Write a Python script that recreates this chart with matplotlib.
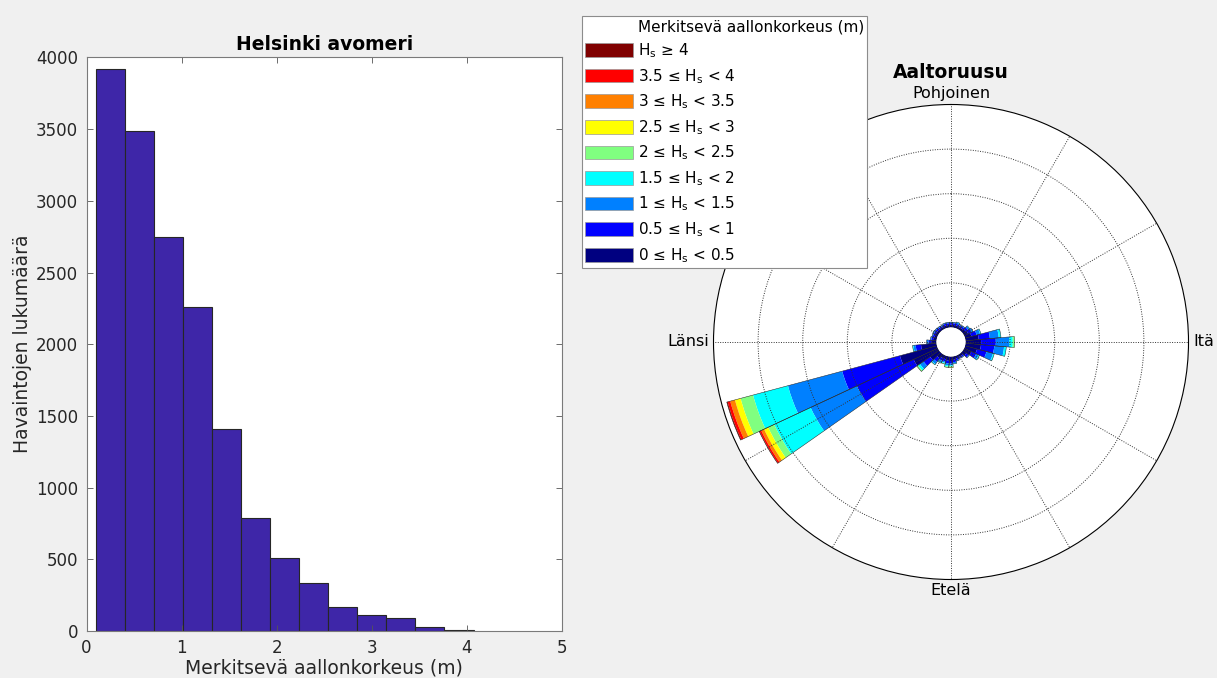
import numpy as np
import matplotlib
matplotlib.use('Agg')
import matplotlib.pyplot as plt
from matplotlib.patches import Patch, Circle

# --- histogram data (counts per wave-height bin) ---
bin_edges = np.linspace(0.097, 4.07, 14)
hist_counts = [3922, 3488, 2745, 2257, 1407, 786, 507, 333, 165, 112, 88, 28, 4]

# --- wave rose data: frequency per 10 degree sector and height class ---
directions = np.arange(0, 360, 10)
# 0 <= Hs < 0.5
hs_0_05 = [.06, .06, .06, .05, .06, .08, .10, .15, .30, .35, .35, .28,
           .18, .10, .06, .05, .06, .08, .10, .10, .08, .08, .12, .25,
           .60, .86, .35, .12, .08, .06, .06, .06, .05, .05, .06, .06]
# 0.5 <= Hs < 1
hs_05_1 = [.04, .04, .04, .04, .04, .06, .08, .12, .25, .33, .30, .22,
           .12, .06, .03, .03, .04, .05, .06, .06, .05, .06, .10, .18,
           1.40, 1.34, .12, .06, .04, .04, .04, .04, .04, .03, .04, .04]
# 1 <= Hs < 1.5
hs_1_15 = [.02, .02, .03, .02, .02, .04, .04, .08, .20, .30, .22, .15,
           .06, .02, .01, .01, .02, .03, .04, .04, .03, .04, .06, .10,
           1.15, 1.26, .05, .04, .02, .02, .03, .02, .02, .02, .02, .02]
# 1.5 <= Hs < 2
hs_15_2 = [0, 0, .01, 0, 0, .01, 0, .02, .05, .08, .05, .03,
           .02, 0, 0, 0, 0, .01, .02, .03, .02, .02, .02, .05,
           .90, .81, .02, 0, 0, 0, 0, 0, 0, 0, 0, 0]
# 2 <= Hs < 2.5
hs_2_25 = [0, 0, 0, 0, 0, 0, 0, 0, 0, .04, 0, 0,
           0, 0, 0, 0, 0, 0, .02, .02, .01, 0, 0, .03,
           .15, .29, 0, 0, 0, 0, 0, 0, 0, 0, 0, 0]
# 2.5 <= Hs < 3
hs_25_3 = [0] * 18 + [.01] + [0] * 5 + [.10, .13] + [0] * 10
# 3 <= Hs < 3.5
hs_3_35 = [0] * 24 + [.07, .11] + [0] * 10
# 3.5 <= Hs < 4
hs_35_4 = [0] * 24 + [.04, .06] + [0] * 10
# Hs >= 4
hs_4 = [0] * 24 + [.01, .02] + [0] * 10

classes = [hs_0_05, hs_05_1, hs_1_15, hs_15_2, hs_2_25,
           hs_25_3, hs_3_35, hs_35_4, hs_4]
class_colors = ['#000080', '#0000ff', '#0080ff', '#00ffff', '#80ff80',
                '#ffff00', '#ff8000', '#ff0000', '#800000']
class_labels = ['0 ≤ H$_\\mathrm{s}$ < 0.5',
                '0.5 ≤ H$_\\mathrm{s}$ < 1',
                '1 ≤ H$_\\mathrm{s}$ < 1.5',
                '1.5 ≤ H$_\\mathrm{s}$ < 2',
                '2 ≤ H$_\\mathrm{s}$ < 2.5',
                '2.5 ≤ H$_\\mathrm{s}$ < 3',
                '3 ≤ H$_\\mathrm{s}$ < 3.5',
                '3.5 ≤ H$_\\mathrm{s}$ < 4',
                'H$_\\mathrm{s}$ ≥ 4']

W, H = 1217, 678
fig = plt.figure(figsize=(W / 100, H / 100), dpi=100)
fig.patch.set_facecolor('#f0f0f0')
plt.rcParams['mathtext.default'] = 'regular'
txt_col = '#262626'

# ---------------- histogram ----------------
ax = fig.add_axes([86.5 / W, 1 - 631 / H, (562 - 86.5) / W, (631 - 57.4) / H])
ax.bar(bin_edges[:-1], hist_counts, width=np.diff(bin_edges), align='edge',
       color='#3e26a8', edgecolor='#262626', linewidth=0.8)
ax.set_xlim(0, 5)
ax.set_ylim(0, 4000)
ax.set_xticks(range(0, 6))
ax.set_yticks(range(0, 4001, 500))
ax.tick_params(direction='in', top=True, right=True, length=4, width=0.6,
               color='#555555', labelsize=12, labelcolor=txt_col, pad=6)
for sp in ax.spines.values():
    sp.set_color('#7a7a7a')
    sp.set_linewidth(0.8)
ax.set_xlabel('Merkitsevä aallonkorkeus (m)', fontsize=13.5, color=txt_col, labelpad=1)
ax.set_ylabel('Havaintojen lukumäärä', fontsize=13.5, color=txt_col, labelpad=3)
fig.text(324.25 / W, 1 - 44 / H, 'Helsinki avomeri', fontsize=13.5,
         fontweight='bold', ha='center', va='center', color='black')

# ---------------- wave rose ----------------
cx, cy, R = 951, 342, 237.5
pax = fig.add_axes([(cx - R) / W, 1 - (cy + R) / H, 2 * R / W, 2 * R / H],
                   projection='polar')
pax.set_theta_zero_location('N')
pax.set_theta_direction(-1)
pax.set_rorigin(-0.325)
pax.set_ylim(0, 5)

theta = np.deg2rad(directions)
width = np.deg2rad(10)
bottom = np.zeros(len(directions))
for vals, col in zip(classes, class_colors):
    pax.bar(theta, vals, width=width, bottom=bottom, color=col,
            edgecolor='none', linewidth=0, zorder=1)
    bottom = bottom + np.array(vals)
# outline of each sector
pax.bar(theta, bottom, width=width, bottom=0, facecolor='none',
        edgecolor='#222222', linewidth=0.35, zorder=1.5)

pax.set_xticks(np.deg2rad(np.arange(0, 360, 30)))
pax.set_yticks([1, 2, 3, 4])
pax.set_xticklabels([])
pax.set_yticklabels([])
pax.set_axisbelow(False)
pax.grid(True, color='#333333', linestyle=(0, (1, 1.5)), linewidth=0.7)
pax.spines['polar'].set_color('black')
pax.spines['polar'].set_linewidth(0.8)
pax.spines['inner'].set_linewidth(0)
pax.add_patch(Circle((0.5, 0.5), 0.5 * 0.325 / 5.325, transform=pax.transAxes,
                     facecolor='white', edgecolor='none', zorder=3, clip_on=False))

lab_kw = dict(fontsize=11.5, color='black', transform=pax.transAxes)
pax.text(0.5, 1.007, 'Pohjoinen', ha='center', va='bottom', **lab_kw)
pax.text(0.5, -0.008, 'Etelä', ha='center', va='top', **lab_kw)
pax.text(1.01, 0.5, 'Itä', ha='left', va='center', **lab_kw)
pax.text(-0.01, 0.5, 'Länsi', ha='right', va='center', **lab_kw)
fig.text(cx / W, 1 - 72 / H, 'Aaltoruusu', fontsize=13.5, fontweight='bold',
         ha='center', va='center', color='black')

# legend, highest class first
handles = [Patch(facecolor='none', edgecolor='none')]
labels = ['Merkitsevä aallonkorkeus (m)']
for col, lab in zip(class_colors[::-1], class_labels[::-1]):
    handles.append(Patch(facecolor=col, edgecolor='#999999', linewidth=0.5))
    labels.append(lab)
leg = fig.legend(handles, labels, loc='upper left',
                 bbox_to_anchor=(582 / W, 1 - 16 / H), borderaxespad=0,
                 fontsize=11, handlelength=3.1, handleheight=1.0,
                 handletextpad=0.33, labelspacing=0.45, borderpad=0.22,
                 fancybox=False, framealpha=1, edgecolor='#8c8c8c')
leg.get_frame().set_linewidth(0.8)

fig.savefig('out.png', dpi=100, facecolor=fig.get_facecolor())
